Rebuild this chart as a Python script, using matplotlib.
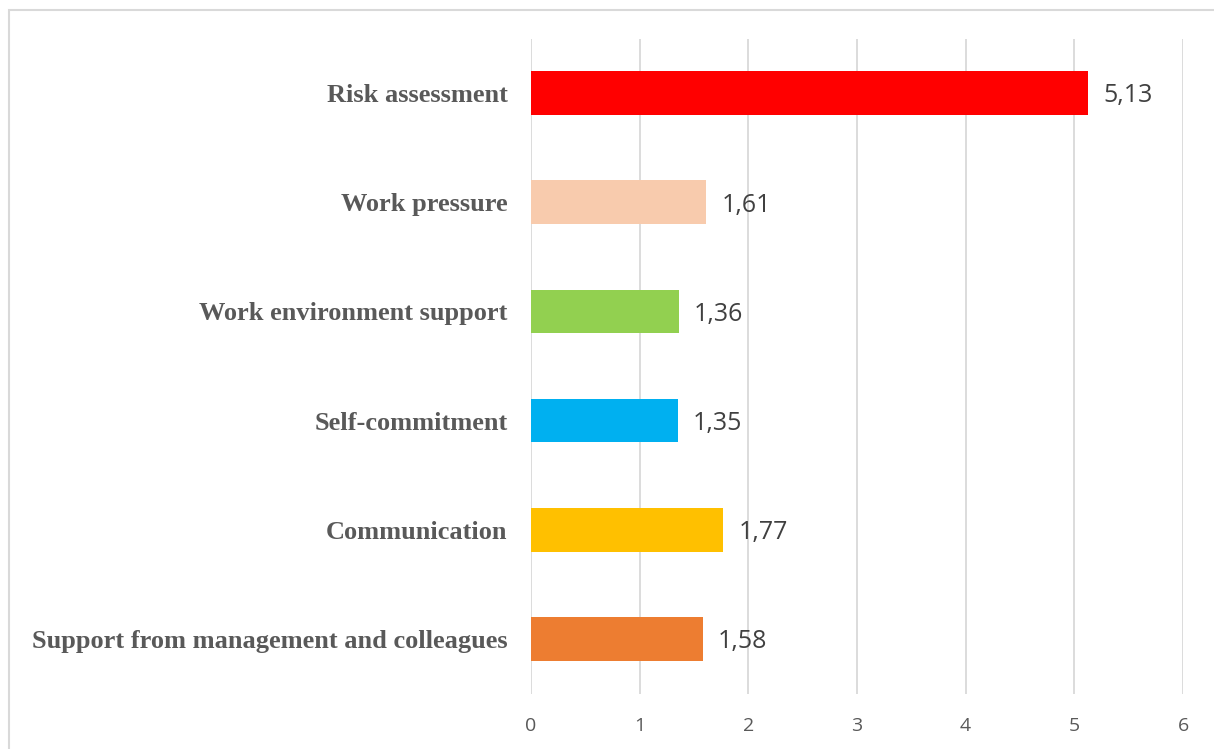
import matplotlib.pyplot as plt
from matplotlib.patches import Rectangle

# Data (bottom to top)
categories = ['Support from management and colleagues', 'Communication',
              'Self-commitment', 'Work environment support',
              'Work pressure', 'Risk assessment']
values = [1.58, 1.77, 1.35, 1.36, 1.61, 5.13]
colors = ['#ED7D31', '#FFC000', '#00B0F0', '#92D050', '#F8CBAD', '#FF0000']
xticks = [0, 1, 2, 3, 4, 5, 6]

fig = plt.figure(figsize=(12.14, 7.49), dpi=100)
# outer chart frame
fig.patches.append(Rectangle((9 / 1214, -0.1), 1.2, 1.1 - 10 / 749,
                             transform=fig.transFigure, fill=False,
                             edgecolor='#D9D9D9', linewidth=1.5))

ax = fig.add_axes([531 / 1214, 1 - 693.5 / 749, (1183 - 531) / 1214, (693.5 - 38.5) / 749])

y = range(len(categories))
ax.barh(y, values, height=0.4, color=colors, zorder=3)

for yi, v in zip(y, values):
    ax.annotate(('%.2f' % v).replace('.', ','), xy=(v, yi), xytext=(11, -2),
                textcoords='offset points', va='center', ha='left',
                fontsize=18, color='#404040', family='Open Sans')

ax.set_xlim(0, 6)
ax.set_ylim(-0.5, len(categories) - 0.5)
ax.set_xticks(xticks)
ax.set_xticklabels([str(t) for t in xticks], family='Open Sans', fontsize=14, color='#595959')
ax.set_yticks(list(y))
ax.set_yticklabels(categories, family='Liberation Serif', fontweight='bold',
                   fontsize=19, color='#595959')
ax.tick_params(axis='x', length=0, pad=17)
ax.tick_params(axis='y', length=0, pad=17)
ax.grid(axis='x', color='#D9D9D9', linewidth=1.3, zorder=0)
for s in ax.spines.values():
    s.set_visible(False)

fig.savefig('out.png', dpi=100)
